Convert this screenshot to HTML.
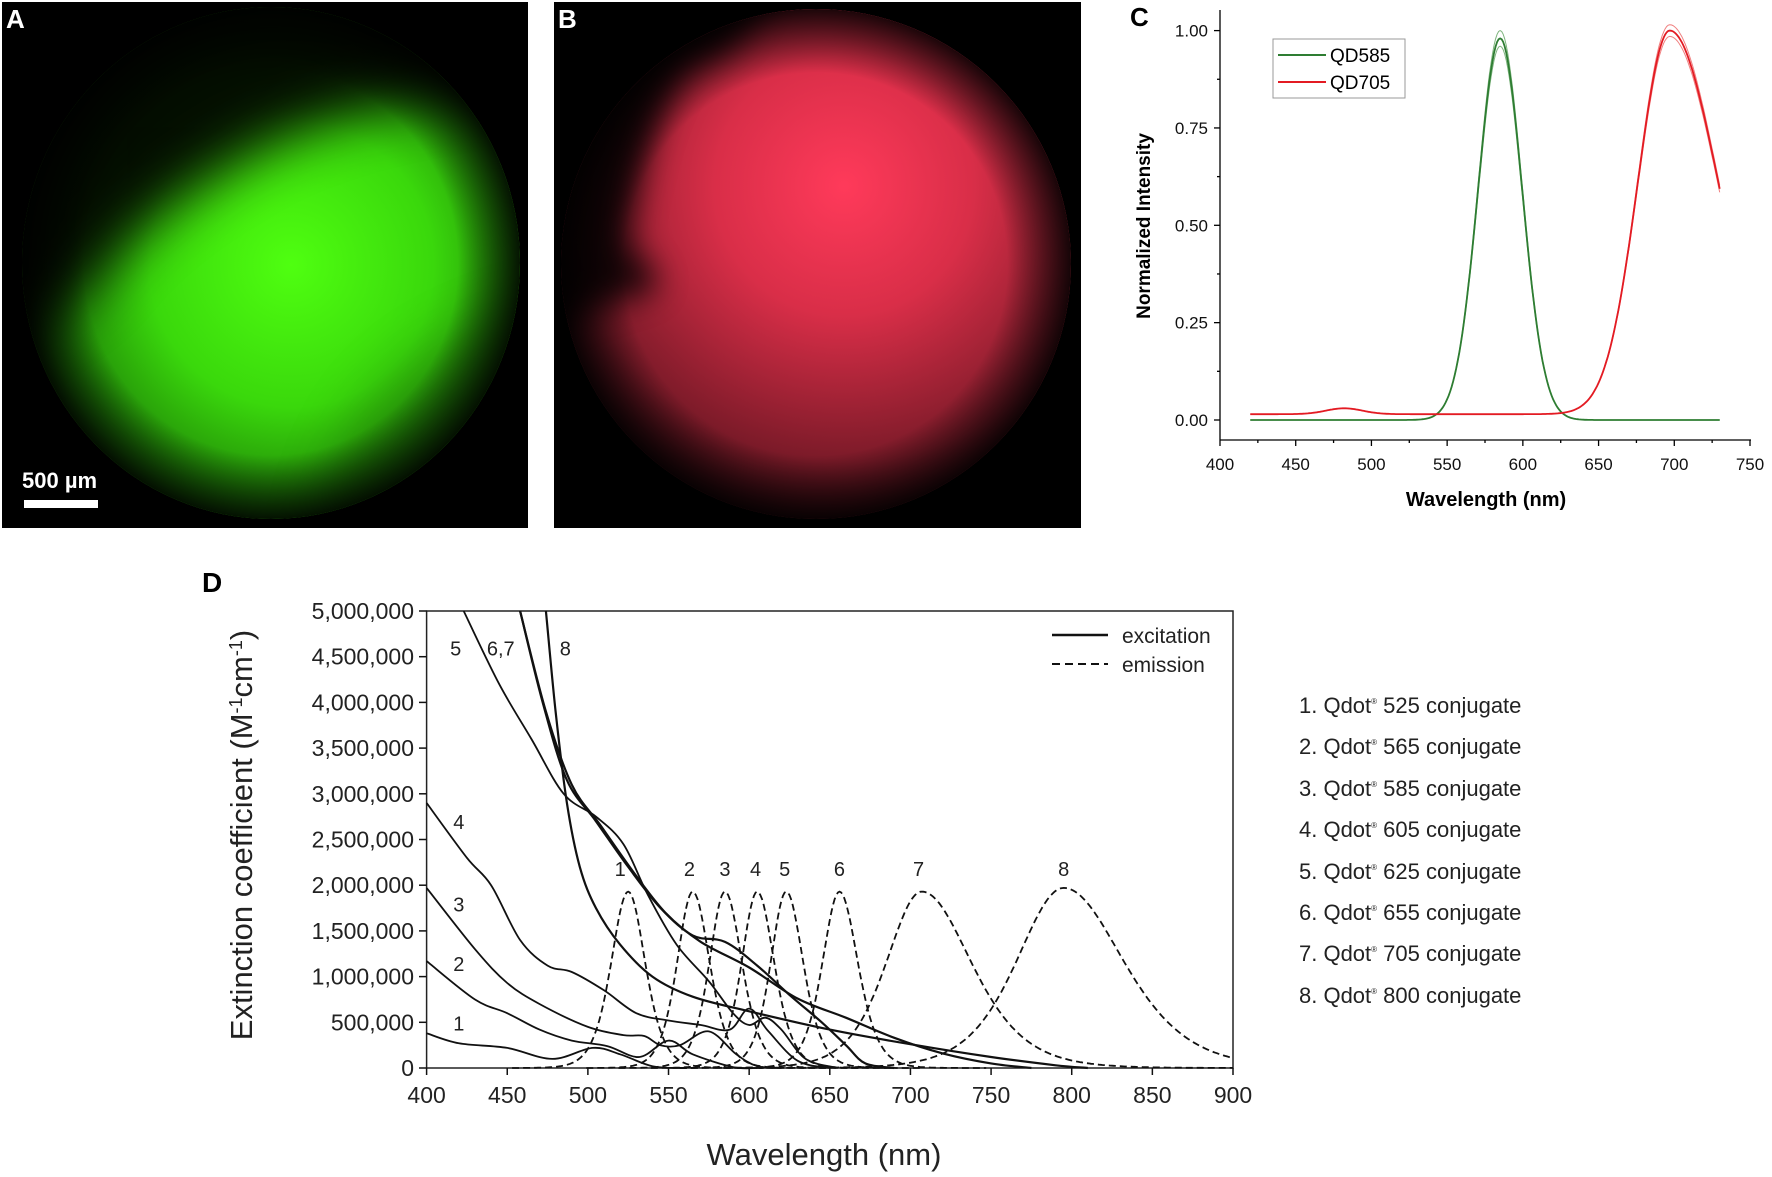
<!DOCTYPE html>
<html><head><meta charset="utf-8"><style>
html,body{margin:0;padding:0;background:#fff;width:1772px;height:1177px;overflow:hidden}
svg{display:block}
text{font-family:"Liberation Sans",sans-serif}
</style></head><body>
<svg id="s" width="1772" height="1177" viewBox="0 0 1772 1177" xmlns="http://www.w3.org/2000/svg">
<defs>
<radialGradient id="gA" cx="0.55" cy="0.5" r="0.6">
<stop offset="0" stop-color="#4fff10"/><stop offset="0.45" stop-color="#3ad80c"/><stop offset="0.8" stop-color="#1d7a08"/><stop offset="1" stop-color="#061a02"/></radialGradient>
<radialGradient id="gB" cx="0.55" cy="0.35" r="0.7">
<stop offset="0" stop-color="#ff3a5a"/><stop offset="0.35" stop-color="#d92e48"/><stop offset="0.75" stop-color="#7a1a28"/><stop offset="1" stop-color="#1a0508"/></radialGradient>
<radialGradient id="gEdge" cx="0.5" cy="0.5" r="0.5">
<stop offset="0.75" stop-color="#000" stop-opacity="0"/><stop offset="1" stop-color="#000" stop-opacity="0.85"/></radialGradient>
<filter id="bl" x="-30%" y="-30%" width="160%" height="160%"><feGaussianBlur stdDeviation="28"/></filter>
<filter id="bl2" x="-30%" y="-30%" width="160%" height="160%"><feGaussianBlur stdDeviation="16"/></filter>
<clipPath id="cA"><ellipse cx="271" cy="263" rx="249" ry="256"/></clipPath>
<clipPath id="cB"><ellipse cx="816" cy="264" rx="255" ry="255"/></clipPath>
</defs>
<!-- Panel A -->
<rect x="2" y="2" width="526" height="526" fill="#000"/>
<g clip-path="url(#cA)">
<rect x="2" y="2" width="526" height="526" fill="url(#gA)"/>
<path d="M-40 -40 L560 -40 L560 80 C440 90 340 110 260 150 C190 190 130 230 90 290 L-40 380 Z" fill="#000" opacity="0.92" filter="url(#bl)"/>
<path d="M560 300 C480 320 410 350 370 400 C340 440 320 490 310 560 L560 560 Z" fill="#000" opacity="0.2" filter="url(#bl)"/>
<ellipse cx="271" cy="263" rx="249" ry="256" fill="url(#gEdge)"/>
</g>
<text x="6" y="28" font-size="26" font-weight="bold" fill="#fff">A</text>
<text x="22" y="488" font-size="22" font-weight="bold" fill="#fff">500 µm</text>
<rect x="24" y="500" width="74" height="8" fill="#fff"/>
<!-- Panel B -->
<rect x="554" y="2" width="527" height="526" fill="#000"/>
<g clip-path="url(#cB)">
<rect x="554" y="2" width="527" height="526" fill="url(#gB)"/>
<path d="M520 -20 L770 -20 C750 30 730 55 700 60 C660 70 640 180 630 230 C620 260 690 280 640 295 C600 305 570 320 520 340 Z" fill="#000" opacity="0.85" filter="url(#bl2)"/>
<ellipse cx="816" cy="264" rx="255" ry="255" fill="url(#gEdge)"/>
</g>
<text x="558" y="28" font-size="26" font-weight="bold" fill="#fff">B</text>
<!-- Panel C -->
<text x="1130" y="26" font-size="26" font-weight="bold">C</text>
<g id="C" stroke="#000" stroke-width="1.3" fill="none">
<line x1="1220" y1="10" x2="1220" y2="440"/>
<line x1="1220" y1="440" x2="1751" y2="440"/>
</g>
<g id="Ct" font-size="17" fill="#111"></g>
<text transform="translate(1150,226) rotate(-90)" text-anchor="middle" font-size="19" font-weight="bold">Normalized Intensity</text>
<text x="1486" y="506" text-anchor="middle" font-size="20" font-weight="bold">Wavelength (nm)</text>
<rect x="1273" y="39" width="132" height="59" fill="#fff" stroke="#999" stroke-width="1"/>
<line x1="1278" y1="55" x2="1326" y2="55" stroke="#2e7d32" stroke-width="2"/>
<text x="1330" y="62" font-size="19">QD585</text>
<line x1="1278" y1="82" x2="1326" y2="82" stroke="#e31b23" stroke-width="2"/>
<text x="1330" y="89" font-size="19">QD705</text>
<g id="Cc" fill="none"></g>
<!-- Panel D -->
<text x="202" y="592" font-size="28" font-weight="bold">D</text>
<rect x="426.6" y="611" width="806.4" height="457" fill="none" stroke="#222" stroke-width="1.5"/>
<g id="Dt" font-size="23" fill="#222"></g>
<text transform="translate(252,835) rotate(-90)" text-anchor="middle" font-size="31" fill="#222">Extinction coefficient (M<tspan dy="-10" font-size="18">-1</tspan><tspan dy="10">cm</tspan><tspan dy="-10" font-size="18">-1</tspan><tspan dy="10">)</tspan></text>
<text x="824" y="1165" text-anchor="middle" font-size="31" fill="#222">Wavelength (nm)</text>
<line x1="1052" y1="635" x2="1108" y2="635" stroke="#111" stroke-width="2.5"/>
<text x="1122" y="643" font-size="21" fill="#222">excitation</text>
<line x1="1052" y1="664" x2="1108" y2="664" stroke="#111" stroke-width="2" stroke-dasharray="8,5"/>
<text x="1122" y="672" font-size="21" fill="#222">emission</text>
<g id="Dc" fill="none" stroke="#111" stroke-width="1.8"></g>
<g id="Dl" font-size="20" fill="#222" text-anchor="middle"></g>
<g font-size="22" fill="#222">
<text x="1299" y="713">1. Qdot<tspan dy="-9" font-size="8">®</tspan><tspan dy="9"> 525 conjugate</tspan></text>
<text x="1299" y="754">2. Qdot<tspan dy="-9" font-size="8">®</tspan><tspan dy="9"> 565 conjugate</tspan></text>
<text x="1299" y="796">3. Qdot<tspan dy="-9" font-size="8">®</tspan><tspan dy="9"> 585 conjugate</tspan></text>
<text x="1299" y="837">4. Qdot<tspan dy="-9" font-size="8">®</tspan><tspan dy="9"> 605 conjugate</tspan></text>
<text x="1299" y="879">5. Qdot<tspan dy="-9" font-size="8">®</tspan><tspan dy="9"> 625 conjugate</tspan></text>
<text x="1299" y="920">6. Qdot<tspan dy="-9" font-size="8">®</tspan><tspan dy="9"> 655 conjugate</tspan></text>
<text x="1299" y="961">7. Qdot<tspan dy="-9" font-size="8">®</tspan><tspan dy="9"> 705 conjugate</tspan></text>
<text x="1299" y="1003">8. Qdot<tspan dy="-9" font-size="8">®</tspan><tspan dy="9"> 800 conjugate</tspan></text>
</g>
</svg>
<script>
var NS="http://www.w3.org/2000/svg";
function el(p,t,a,txt){var e=document.createElementNS(NS,t);for(var k in a)e.setAttribute(k,a[k]);if(txt!=null)e.textContent=txt;document.getElementById(p).appendChild(e);return e;}
function cx(n){return 1220+(n-400)*530/350;}function cy(v){return 420-v*389.4;}
for(var n=400;n<=750;n+=50){el('C','line',{x1:cx(n),y1:440,x2:cx(n),y2:446});el('Ct','text',{x:cx(n),y:470,'text-anchor':'middle'},n);}
for(var n=425;n<750;n+=50)el('C','line',{x1:cx(n),y1:440,x2:cx(n),y2:443});
for(var i=0;i<=4;i++){var v=i*0.25;el('C','line',{x1:1214,y1:cy(v),x2:1220,y2:cy(v)});el('Ct','text',{x:1208,y:cy(v)+6,'text-anchor':'end'},v.toFixed(2));}
for(var i=0;i<4;i++){var v=i*0.25+0.125;el('C','line',{x1:1217,y1:cy(v),x2:1220,y2:cy(v)});}
function pathF(f,a,b,X,Y){var d='';for(var n=a;n<=b;n+=1){d+=(n==a?'M':'L')+X(n).toFixed(1)+' '+Y(f(n)).toFixed(1);}return d;}
function g(n){return Math.exp(-Math.pow(n-585,2)/(2*14.5*14.5));}
[[0.96,'#7fb57f',1],[1.0,'#7fb57f',1],[0.98,'#2e7d32',1.8]].forEach(function(s){el('Cc','path',{d:pathF(function(n){return s[0]*g(n);},420,730,cx,cy),stroke:s[1],'stroke-width':s[2]});});
function r(n){var s=n<697?21:32;var p=Math.exp(-Math.pow(n-697,2)/(2*s*s));var b=0.015+0.015*Math.exp(-Math.pow(n-482,2)/(2*12*12));return Math.max(p,0)+b*(1-p);}
[[0.985,'#f08080',1],[1.015,'#f08080',1],[1.0,'#e31b23',1.8]].forEach(function(s){el('Cc','path',{d:pathF(function(n){return s[0]*r(n);},420,730,cx,cy),stroke:s[1],'stroke-width':s[2]});});
function dx(n){return 426.6+(n-400)*806.4/500;}function dy(v){return 1068-v*91.4;}
for(var n=400;n<=900;n+=50){el('Dc','line',{x1:dx(n),y1:1068,x2:dx(n),y2:1075,'stroke-width':1.5});el('Dt','text',{x:dx(n),y:1103,'text-anchor':'middle'},n);}
for(var i=0;i<=10;i++){var v=i*0.5;el('Dc','line',{x1:419,y1:dy(v),x2:426.6,y2:dy(v),'stroke-width':1.5});var s=(v*1000000).toLocaleString('en-US');el('Dt','text',{x:414,y:dy(v)+8,'text-anchor':'end'},s);}
function cr(pts){var P=pts.map(function(p){return [dx(p[0]),dy(p[1])];});var d='M'+P[0][0].toFixed(1)+' '+P[0][1].toFixed(1);for(var i=0;i<P.length-1;i++){var p0=P[i-1]||P[i],p1=P[i],p2=P[i+1],p3=P[i+2]||P[i+1];var c1=[p1[0]+(p2[0]-p0[0])/6,p1[1]+(p2[1]-p0[1])/6],c2=[p2[0]-(p3[0]-p1[0])/6,p2[1]-(p3[1]-p1[1])/6];d+='C'+c1[0].toFixed(1)+' '+c1[1].toFixed(1)+' '+c2[0].toFixed(1)+' '+c2[1].toFixed(1)+' '+p2[0].toFixed(1)+' '+p2[1].toFixed(1);}return d;}
var ex=[
[[400,0.38],[420,0.27],[450,0.22],[478,0.1],[503,0.22],[520,0.15],[540,0.02],[560,0]],
[[400,1.17],[430,0.75],[450,0.6],[470,0.42],[490,0.3],[512,0.24],[532,0.12],[550,0.3],[565,0.15],[590,0.01],[605,0]],
[[400,1.97],[430,1.3],[450,0.93],[470,0.7],[500,0.45],[522,0.36],[535,0.35],[545,0.25],[557,0.25],[575,0.4],[592,0.15],[605,0.02],[620,0]],
[[400,2.9],[425,2.3],[440,2.0],[458,1.4],[475,1.12],[490,1.05],[510,0.85],[530,0.6],[550,0.52],[570,0.47],[588,0.42],[600,0.65],[612,0.4],[630,0.08],[650,0]],
[[423,5.0],[445,4.2],[465,3.6],[485,3.0],[505,2.75],[522,2.45],[537,1.9],[555,1.35],[575,0.95],[590,0.6],[600,0.47],[610,0.55],[620,0.42],[635,0.1],[655,0]],
[[458,5.0],[472,4.0],[487,3.15],[505,2.7],[525,2.2],[545,1.75],[565,1.45],[585,1.38],[605,1.12],[625,0.8],[645,0.5],[660,0.25],[672,0.05],[690,0]],
[[458,5.0],[474,3.9],[490,3.1],[508,2.65],[528,2.15],[548,1.7],[570,1.38],[600,1.1],[630,0.76],[660,0.55],[690,0.33],[720,0.16],[750,0.05],[775,0]],
[[474,5.0],[480,3.9],[487,2.9],[495,2.2],[505,1.75],[520,1.35],[540,1.0],[565,0.78],[600,0.62],[650,0.42],[700,0.26],[750,0.12],[790,0.03],[810,0]]];
ex.forEach(function(p,i){el('Dc','path',{d:cr(p),'stroke-width':(i>=5?2.2:1.8)});});
var em=[[525,12,12,1.93],[565,11,12,1.93],[585,11,12,1.93],[605,11,12,1.93],[623,11,12,1.93],[656,12,13,1.93],[707,25,35,1.93],[795,33,42,1.97]];
em.forEach(function(e){var a=Math.max(400,e[0]-6*e[1]),b=Math.min(900,e[0]+7*e[2]);var f=function(n){var s=n<e[0]?e[1]:e[2];var x=(n-e[0])/s;return e[3]/Math.pow(Math.cosh(x*0.85),2);};el('Dc','path',{d:pathF(f,a,b,dx,dy),'stroke-dasharray':'7,4','stroke-width':1.8});});
[[520,'1'],[563,'2'],[585,'3'],[604,'4'],[622,'5'],[656,'6'],[705,'7'],[795,'8']].forEach(function(l){el('Dl','text',{x:dx(l[0]),y:dy(2.1)},l[1]);});
[[418,4.6,'5'],[446,4.6,'6,7'],[486,4.6,'8'],[420,2.7,'4'],[420,1.8,'3'],[420,1.15,'2'],[420,0.5,'1']].forEach(function(l){el('Dl','text',{x:dx(l[0]),y:dy(l[1])+8},l[2]);});
</script>
</body></html>
